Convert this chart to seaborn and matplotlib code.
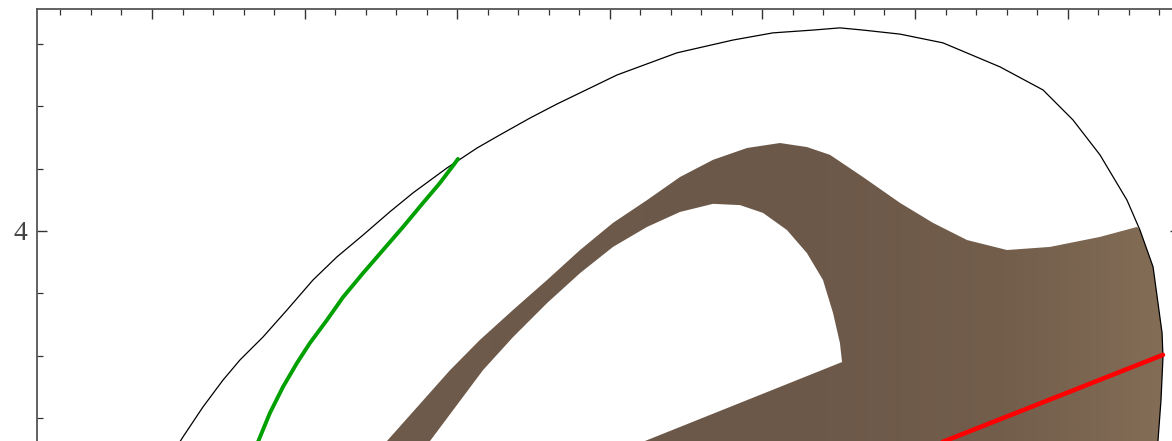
import numpy as np
import matplotlib
matplotlib.use("Agg")
import matplotlib.pyplot as plt
import seaborn as sns
from matplotlib.path import Path
from matplotlib.patches import PathPatch
from matplotlib.colors import LinearSegmentedColormap

# ---------------- data (data units) ----------------
outline_x = [0.10, 0.203, 0.334, 0.465, 0.577, 0.727, 0.885, 1.055, 1.212, 1.383, 1.560,
             1.710, 1.933, 2.130, 2.280, 2.477, 2.654, 3.047, 3.440, 3.807, 4.069, 4.332,
             4.508, 4.659, 4.902, 5.183, 5.557, 5.839, 6.035, 6.212, 6.389, 6.474,
             6.560, 6.619, 6.625, 6.612, 6.592, 6.57]
outline_y = [3.26, 3.340, 3.436, 3.522, 3.587, 3.660, 3.747, 3.843, 3.917, 3.987, 4.062,
             4.122, 4.202, 4.266, 4.308, 4.362, 4.407, 4.500, 4.571, 4.612, 4.635, 4.644,
             4.651, 4.644, 4.631, 4.603, 4.526, 4.452, 4.356, 4.244, 4.099, 4.003,
             3.885, 3.673, 3.596, 3.458, 3.327, 3.25]

green_x = [0.632, 0.708, 0.773, 0.858, 0.950, 1.035, 1.147, 1.252, 1.383, 1.514, 1.645,
           1.776, 1.887, 1.986, 2.005]
green_y = [3.25, 3.340, 3.417, 3.500, 3.577, 3.641, 3.715, 3.788, 3.865, 3.939, 4.013,
           4.090, 4.154, 4.218, 4.231]

red_x = [4.80, 5.197, 6.625]
red_y = [3.25, 3.327, 3.603]

region_outer_x = [1.309, 1.540, 1.953, 2.149, 2.366, 2.589, 2.805, 3.021, 3.244, 3.460,
                  3.676, 3.899, 4.115, 4.292, 4.443, 4.659, 4.902, 5.118, 5.341, 5.603,
                  5.885, 6.212, 6.455, 6.474, 6.560, 6.619, 6.625, 6.612, 6.592, 6.58, 6.58]
region_outer_y = [3.20, 3.327, 3.554, 3.651, 3.747, 3.843, 3.939, 4.026, 4.099, 4.173,
                  4.228, 4.266, 4.282, 4.269, 4.244, 4.173, 4.090, 4.026, 3.971, 3.939,
                  3.949, 3.981, 4.013, 4.003, 3.885, 3.673, 3.596, 3.458, 3.327, 3.25, 3.20]

region_hole_x = [1.664, 1.822, 2.169, 2.366, 2.589, 2.805, 3.021, 3.244, 3.460, 3.676,
                 3.853, 4.004, 4.161, 4.292, 4.397, 4.463, 4.508, 4.522, 3.231, 2.765]
region_hole_y = [3.234, 3.327, 3.554, 3.660, 3.769, 3.865, 3.949, 4.013, 4.061, 4.087,
                 4.083, 4.058, 4.003, 3.929, 3.843, 3.737, 3.641, 3.580, 3.327, 3.234]

y_major = [4]
y_labels = ["4"]
x_major = [0, 1, 2, 3, 4, 5, 6]

# ---------------- figure ----------------
sns.set_style("white")
plt.rcParams["font.family"] = ["Liberation Serif", "DejaVu Serif"]

W, H = 1172, 441
fig = plt.figure(figsize=(W / 100, H / 100), dpi=100)
left_px, right_px, top_px, bottom_px = 37, 1180, 9, 560
ax = fig.add_axes([left_px / W, 1 - bottom_px / H, (right_px - left_px) / W, (bottom_px - top_px) / H])

# brown region with horizontal gradient, clipped to compound path (outer minus hole)
verts = list(zip(region_outer_x, region_outer_y)) + [(region_outer_x[0], region_outer_y[0])]
codes = [Path.MOVETO] + [Path.LINETO] * (len(region_outer_x) - 1) + [Path.CLOSEPOLY]
hole = list(zip(region_hole_x, region_hole_y))[::-1]
verts += hole + [hole[0]]
codes += [Path.MOVETO] + [Path.LINETO] * (len(hole) - 1) + [Path.CLOSEPOLY]
path = Path(verts, codes)
patch = PathPatch(path, facecolor="none", edgecolor="none")
ax.add_patch(patch)

cmap = LinearSegmentedColormap.from_list(
    "brown", [(0.0, "#6f5b4b"), (0.55, "#6c5849"), (0.8, "#735e4c"), (1.0, "#846e57")])
grad = np.linspace(0, 1, 512)[None, :]
im = ax.imshow(grad, cmap=cmap, aspect="auto", extent=(1.2, 6.7, 3.1, 4.4),
               origin="lower", interpolation="bilinear", zorder=1)
im.set_clip_path(patch)

# curves
sns.lineplot(x=outline_x, y=outline_y, sort=False, estimator=None, color="black",
             linewidth=0.9, ax=ax, zorder=3)
sns.lineplot(x=green_x, y=green_y, sort=False, estimator=None, color="#00a000",
             linewidth=2.8, ax=ax, zorder=4)
sns.lineplot(x=red_x, y=red_y, sort=False, estimator=None, color="#ff0000",
             linewidth=3.3, ax=ax, zorder=4)

# frame & ticks (Mathematica style)
for s in ax.spines.values():
    s.set_color("#555555")
    s.set_linewidth(1.3)
ax.set_xticks(x_major)
ax.set_xticks(np.arange(-0.6, 6.7, 0.2), minor=True)
ax.set_yticks(y_major)
ax.set_yticklabels(y_labels)
ax.set_yticks(np.arange(3.0, 4.7, 0.2), minor=True)
ax.set_xlim(-0.7536, 6.7365)
ax.set_ylim(2.9455, 4.7115)
ax.tick_params(axis="both", which="both", direction="in", color="#333333",
               top=True, bottom=True, left=True, right=True)
ax.tick_params(axis="x", labelbottom=False, labeltop=False)
ax.tick_params(axis="y", labelright=False, labelsize=20, labelcolor="#444444", pad=7)
ax.tick_params(which="major", length=7, width=1.0)
ax.tick_params(which="minor", length=4.2, width=0.9)
ax.set_xlabel("")
ax.set_ylabel("")
ax.grid(False)

fig.savefig("out.png", dpi=100)
